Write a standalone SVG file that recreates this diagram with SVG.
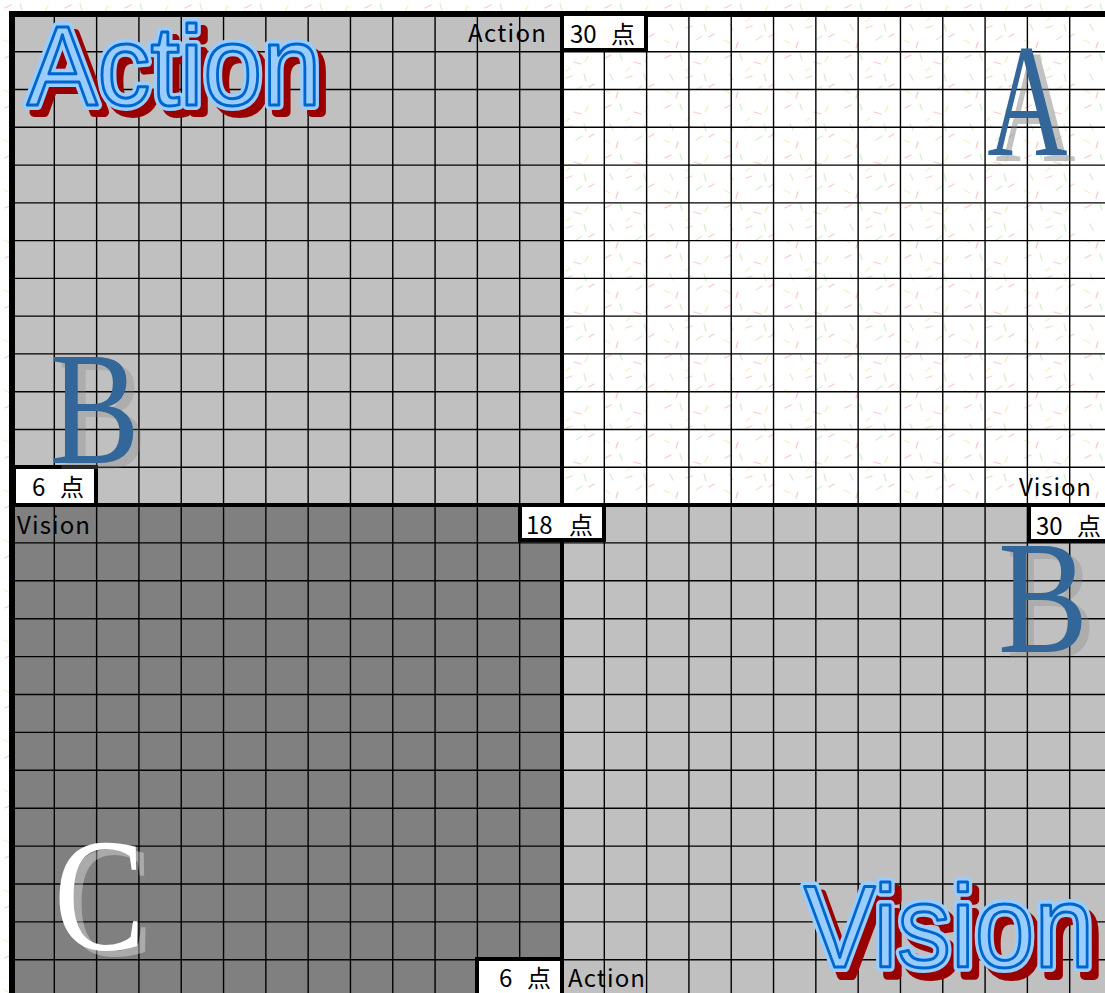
<svg xmlns="http://www.w3.org/2000/svg" xmlns:xlink="http://www.w3.org/1999/xlink" width="1105" height="993" viewBox="0 0 1105 993">
<style>
.lbl{font-family:"Noto Sans CJK JP","Noto Sans",sans-serif;font-size:24px;fill:#000}
.box{fill:#fff;stroke:#000;stroke-width:4}
.thin{stroke:#000;stroke-width:1.4;fill:none}
.serif{font-family:"Liberation Serif","Times New Roman",serif;font-size:160px}
.big{font-family:"Liberation Sans",Arial,sans-serif;stroke-linejoin:round}
.bshadow{fill:#990000;stroke:#990000;stroke-width:10}
.bhalo{fill:#99ccff;stroke:#99ccff;stroke-width:10}
.bmain{fill:#99ccff;stroke:#0066cc;stroke-width:3}
</style>
<defs>
<pattern id="confetti" width="60" height="50" patternUnits="userSpaceOnUse">
<rect width="60" height="50" fill="#fff"/>
<g stroke-width="1.3" stroke-linecap="round" opacity="0.6" fill="none">
<path d="M5 8 l6 -3" stroke="#f2a8a8"/>
<path d="M20 4 l2 6" stroke="#bfe3b0"/>
<path d="M34 12 l7 2" stroke="#f2a8a8"/>
<path d="M48 6 l-3 6" stroke="#dfe89a"/>
<path d="M10 24 l3 6" stroke="#bfe3b0"/>
<path d="M26 28 l6 -2" stroke="#f2b4a8"/>
<path d="M44 24 l2 7" stroke="#bfe3b0"/>
<path d="M54 34 l-5 3" stroke="#f2a8a8"/>
<path d="M4 40 l6 3" stroke="#e8e8a8"/>
<path d="M18 42 l-2 6" stroke="#f2a8a8"/>
<path d="M36 40 l6 -4" stroke="#bfe3b0"/>
<path d="M30 18 l-4 3" stroke="#e8e8a8"/>
</g>
</pattern>
<text id="tAction" class="big" x="27" y="105" font-size="113" textLength="294" lengthAdjust="spacingAndGlyphs">Action</text>
<text id="tVision" class="big" x="804" y="967" font-size="117" textLength="290" lengthAdjust="spacingAndGlyphs">Vision</text>
</defs>

<rect width="1105" height="993" fill="url(#confetti)"/>

<g id="quadrant-fills">
<rect x="12" y="14" width="550" height="491" fill="#c0c0c0"/>
<rect x="562" y="14" width="550" height="491" fill="url(#confetti)"/>
<rect x="12" y="505" width="550" height="491" fill="#808080"/>
<rect x="562" y="505" width="550" height="491" fill="#c0c0c0"/>
</g>

<g id="grid-lines">
<path class="thin" d="M54.31 14V996M96.62 14V996M138.92 14V996M181.23 14V996M223.54 14V996M265.85 14V996M308.15 14V996M350.46 14V996M392.77 14V996M435.08 14V996M477.38 14V996M519.69 14V996M604.31 14V996M646.62 14V996M688.92 14V996M731.23 14V996M773.54 14V996M815.85 14V996M858.15 14V996M900.46 14V996M942.77 14V996M985.08 14V996M1027.38 14V996M1069.69 14V996"/>
<path class="thin" d="M12 51.77H1112M12 89.54H1112M12 127.31H1112M12 165.08H1112M12 202.85H1112M12 240.62H1112M12 278.38H1112M12 316.15H1112M12 353.92H1112M12 391.69H1112M12 429.46H1112M12 467.23H1112M12 542.9H1112M12 580.8H1112M12 618.7H1112M12 656.6H1112M12 694.5H1112M12 732.4H1112M12 770.3H1112M12 808.2H1112M12 846.1H1112M12 884H1112M12 921.9H1112M12 959.8H1112"/>
<path d="M562 14V996M12 505H1112" stroke="#000" stroke-width="4" fill="none"/>
<path d="M12 996V14H1112" stroke="#000" stroke-width="6" fill="none"/>
</g>

<g id="quadrant-A">
<text class="lbl" x="468" y="42" textLength="78">Action</text>
<rect class="box" x="562" y="14" width="84" height="36"/>
<text class="lbl" x="570" y="43">30<tspan x="611">点</tspan></text>
<text class="lbl" x="1019" y="496" textLength="72">Vision</text>
<text class="serif" x="995.3" y="161" textLength="80.3" lengthAdjust="spacingAndGlyphs" fill="#808080" fill-opacity="0.48">A</text>
<text class="serif" x="987.3" y="155" textLength="80.3" lengthAdjust="spacingAndGlyphs" fill="#336699">A</text>
</g>

<g id="quadrant-B-top">
<rect class="box" x="14" y="467" width="82" height="38"/>
<text class="lbl" x="32" y="496">6<tspan x="60">点</tspan></text>
<text class="serif" x="57.8" y="469" textLength="90" lengthAdjust="spacingAndGlyphs" fill="#808080" fill-opacity="0.3">B</text>
<text class="serif" x="49.8" y="463" textLength="90" lengthAdjust="spacingAndGlyphs" fill="#336699">B</text>
</g>

<g id="quadrant-C">
<text class="lbl" x="17" y="534" textLength="73">Vision</text>
<rect class="box" x="520" y="505" width="84" height="35"/>
<text class="lbl" x="526" y="534">18<tspan x="569">点</tspan></text>
<text class="serif" x="62" y="955" textLength="91" lengthAdjust="spacingAndGlyphs" fill="#ffffff" fill-opacity="0.33">C</text>
<text class="serif" x="54" y="949" textLength="91" lengthAdjust="spacingAndGlyphs" fill="#ffffff">C</text>
</g>

<g id="quadrant-B-bottom">
<rect class="box" x="1029" y="505" width="90" height="36"/>
<text class="lbl" x="1036" y="535">30<tspan x="1077">点</tspan></text>
<rect class="box" x="477" y="959" width="85" height="40"/>
<text class="lbl" x="499" y="987">6<tspan x="527">点</tspan></text>
<text class="lbl" x="568" y="987" textLength="77">Action</text>
<text class="serif" x="1006" y="658" textLength="90" lengthAdjust="spacingAndGlyphs" fill="#808080" fill-opacity="0.3">B</text>
<text class="serif" x="998" y="652" textLength="90" lengthAdjust="spacingAndGlyphs" fill="#336699">B</text>
</g>

<g id="title-action">
<use xlink:href="#tAction" class="bshadow" transform="translate(7 7)"/>
<use xlink:href="#tAction" class="bhalo"/>
<use xlink:href="#tAction" class="bmain"/>
</g>

<g id="title-vision">
<use xlink:href="#tVision" class="bshadow" transform="translate(7 8)"/>
<use xlink:href="#tVision" class="bhalo"/>
<use xlink:href="#tVision" class="bmain"/>
</g>
</svg>
